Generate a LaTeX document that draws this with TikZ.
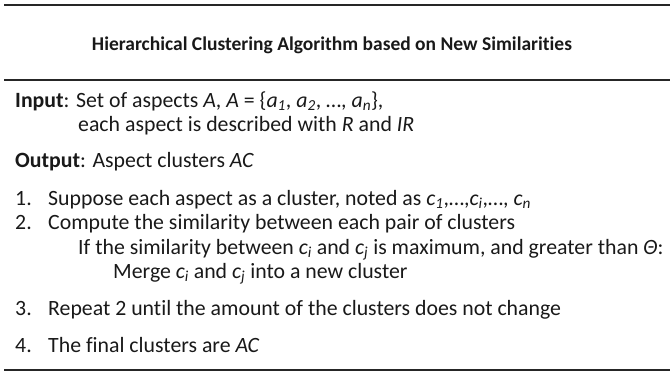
\documentclass[tikz,border=0pt]{standalone}
\usepackage{fontspec}
\setmainfont[Ligatures=NoCommon]{Carlito}
% italic variable with italic subscript
\newcommand{\vsub}[2]{\textit{#1}\textsubscript{\textit{#2}}}
\begin{document}
\begin{tikzpicture}[x=1pt,y=-1pt,
  txt/.style={anchor=base west, inner sep=0pt, text=black!90, font=\fontsize{21.8}{26}\selectfont},
  ttl/.style={anchor=base, inner sep=0pt, text=black!90, font=\fontsize{19.5}{23}\selectfont\bfseries},
  rule/.style={line width=#1, black!85}]
\useasboundingbox (0,0) rectangle (670,372);

% horizontal rules
\coordinate (r1l) at (4,5);   \coordinate (r1r) at (670,5);
\coordinate (r2l) at (4,80);  \coordinate (r2r) at (670,80);
\coordinate (r3l) at (4,370); \coordinate (r3r) at (670,370);
\draw[rule=2.6pt] (r1l) -- (r1r);
\draw[rule=2pt] (r2l) -- (r2r);
\draw[rule=2pt] (r3l) -- (r3r);

% title
\node[ttl] (title) at (332,50) {Hierarchical Clustering Algorithm based on New Similarities};

% input / output
\node[txt] (in1) at (15,107) {\textbf{Input}: Set of aspects \textit{A}, \textit{A} = \{\vsub{a}{1}, \vsub{a}{2}, …, \vsub{a}{n}\},};
\node[txt] (in2) at (78,131) {each aspect is described with \textit{R} and \textit{IR}};
\node[txt] (out) at (15,167) {\textbf{Output}: Aspect clusters \textit{AC}};

% steps
\node[txt] (n1) at (15,205) {1.};
\node[txt] (s1) at (48,205) {Suppose each aspect as a cluster, noted as \vsub{c}{1},…,\vsub{c}{i},…, \vsub{c}{n}};
\node[txt] (n2) at (15,229) {2.};
\node[txt] (s2) at (48,229) {Compute the similarity between each pair of clusters};
\node[txt] (s2a) at (78,254) {If the similarity between \vsub{c}{i} and \vsub{c}{j} is maximum, and greater than \textit{Θ}:};
\node[txt] (s2b) at (113,278) {Merge \vsub{c}{i} and \vsub{c}{j} into a new cluster};
\node[txt] (n3) at (15,315) {3.};
\node[txt] (s3) at (48,315) {Repeat 2 until the amount of the clusters does not change};
\node[txt] (n4) at (15,352) {4.};
\node[txt] (s4) at (48,352) {The final clusters are \textit{AC}};
\end{tikzpicture}
\end{document}
